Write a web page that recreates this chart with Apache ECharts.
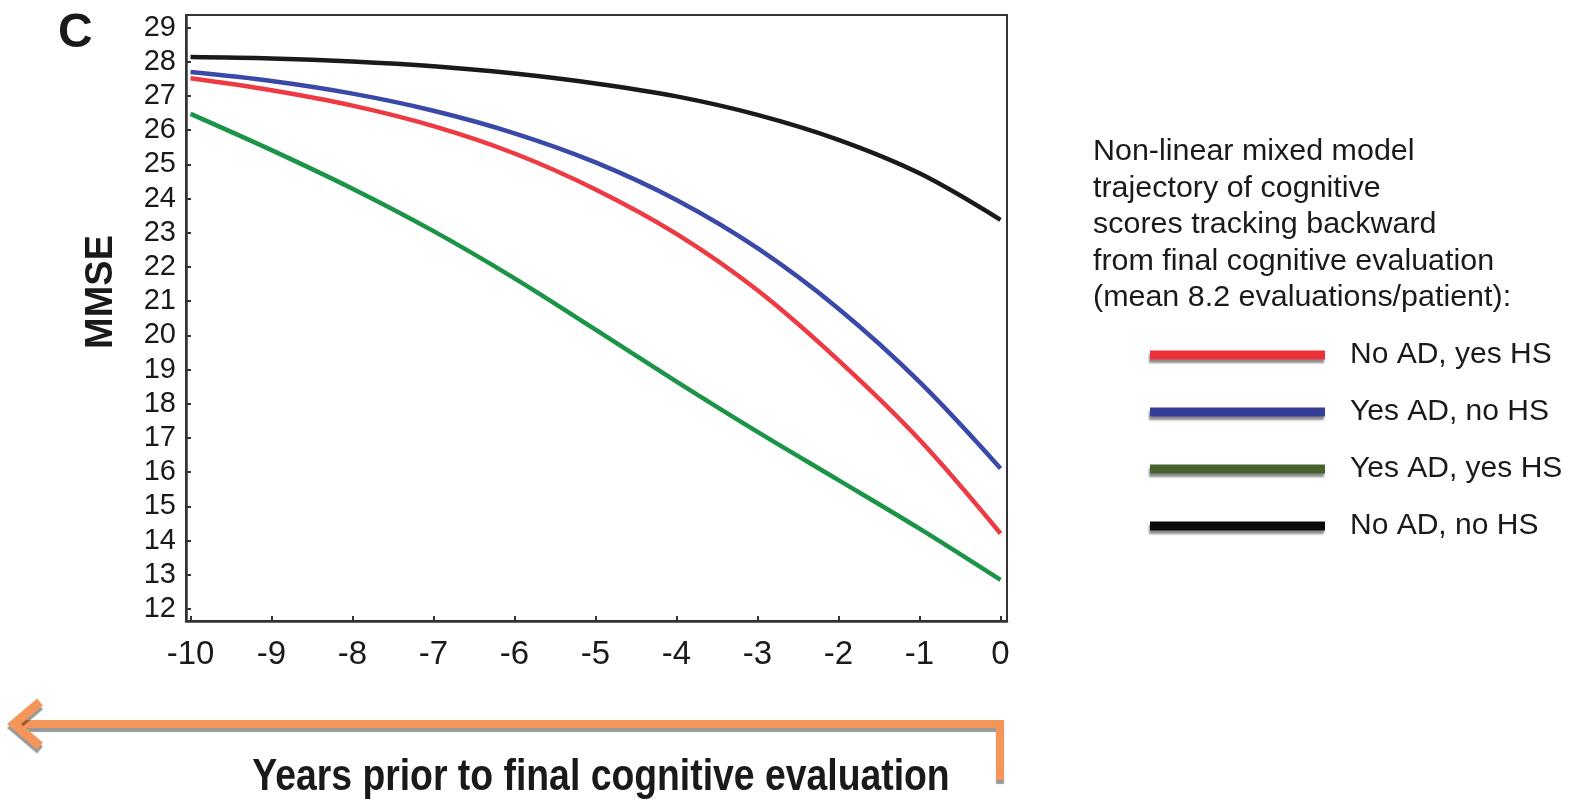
<!DOCTYPE html>
<html>
<head>
<meta charset="utf-8">
<script src="https://cdn.jsdelivr.net/npm/echarts@6/dist/echarts.min.js"></script>
<style>
  html, body { margin: 0; padding: 0; background: #fff; }
  #chart { width: 1573px; height: 799px; }
</style>
</head>
<body>
<div id="chart"></div>
<script>
// 数据：横轴年份与四条轨迹（MMSE）
const years = [-10, -9, -8, -7, -6, -5, -4, -3, -2, -1, 0];
const yTicks = [12, 13, 14, 15, 16, 17, 18, 19, 20, 21, 22, 23, 24, 25, 26, 27, 28, 29];
const seriesNames = ["No AD, yes HS", "Yes AD, no HS", "Yes AD, yes HS", "No AD, no HS"];
const noAdYesHs = [27.52, 27.17, 26.72, 26.12, 25.32, 24.27, 22.97, 21.32, 19.27, 16.95, 14.21];
const yesAdNoHs = [27.7, 27.44, 27.07, 26.57, 25.91, 25.06, 23.96, 22.55, 20.78, 18.64, 16.11];
const yesAdYesHs = [26.48, 25.42, 24.29, 23.05, 21.67, 20.17, 18.65, 17.18, 15.77, 14.35, 12.85];
const noAdNoHs = [28.14, 28.1, 28.01, 27.87, 27.66, 27.37, 26.99, 26.45, 25.72, 24.74, 23.38];

const lineColors = ["#ee3a43", "#3a48a8", "#1c9447", "#1a1a1a"];
const legendColors = ["#ec3138", "#363d96", "#46622f", "#0a0a0a"];

const sans = '"Liberation Sans", Arial, sans-serif';

function pairs(vals) {
  return years.map((x, i) => [x, vals[i]]);
}

let myChart = echarts.init(document.getElementById("chart"));

const allData = [noAdYesHs, yesAdNoHs, yesAdYesHs, noAdNoHs];

let option = {
  animation: false,
  grid: {
    left: 186,
    right: 566,
    top: 15,
    bottom: 178,
    show: true,
    borderColor: "#333",
    borderWidth: 2,
  },
  xAxis: {
    type: "value",
    min: -10.056,
    max: 0.08,
    axisLine: { onZero: false, lineStyle: { color: "#333", width: 2.5 } },
    axisTick: { inside: true, length: 5, customValues: years, lineStyle: { color: "#333", width: 2 } },
    axisLabel: {
      customValues: years,
      margin: 17,
      color: "#1a1a1a",
      fontFamily: sans,
      fontSize: 33,
    },
    splitLine: { show: false },
  },
  yAxis: {
    type: "value",
    min: 11.65,
    max: 29.37,
    axisLine: { onZero: false, lineStyle: { color: "#333", width: 2.5 } },
    axisTick: { inside: true, length: 5, customValues: yTicks, lineStyle: { color: "#333", width: 2 } },
    axisLabel: {
      customValues: yTicks,
      margin: 10,
      color: "#1a1a1a",
      fontFamily: sans,
      fontSize: 29,
    },
    splitLine: { show: false },
  },
  legend: {
    orient: "vertical",
    left: 1145,
    top: 335,
    icon: "rect",
    itemWidth: 175,
    itemHeight: 9,
    itemGap: 27,
    selectedMode: false,
    textStyle: {
      fontFamily: sans,
      fontSize: 30,
      color: "#1a1a1a",
      lineHeight: 30,
      padding: [0, 0, 0, 20],
    },
    data: seriesNames.map((name, i) => ({
      name: name,
      itemStyle: {
        color: legendColors[i],
        borderWidth: 0,
        shadowColor: "rgba(0,0,0,0.45)",
        shadowOffsetY: 3,
        shadowOffsetX: -1,
        shadowBlur: 2,
      },
    })),
  },
  series: seriesNames.map((name, i) => ({
    name: name,
    type: "line",
    data: pairs(allData[i]),
    smooth: 0.35,
    symbol: "none",
    color: lineColors[i],
    lineStyle: { width: 4.5, color: lineColors[i] },
  })),
  graphic: [
    // 左上角面板字母
    {
      type: "text",
      left: 58,
      top: 10,
      style: { text: "C", font: "bold 48px " + sans, fill: "#1a1a1a" },
    },
    // 纵轴标题
    {
      type: "text",
      x: 102,
      y: 292,
      rotation: Math.PI / 2,
      style: {
        text: "MMSE",
        font: "bold 38px " + sans,
        fill: "#1a1a1a",
        align: "center",
        verticalAlign: "middle",
      },
    },
    // 图例说明
    {
      type: "text",
      x: 1093,
      y: 134,
      scaleX: 1.05,
      style: {
        text: "Non-linear mixed model\ntrajectory of cognitive\nscores tracking backward\nfrom final cognitive evaluation\n(mean 8.2 evaluations/patient):",
        font: "29px " + sans,
        lineHeight: 36.5,
        fill: "#1a1a1a",
      },
    },
    // 橙色箭头
    {
      type: "polyline",
      shape: { points: [[1000, 780], [1000, 724], [16, 724]] },
      style: {
        stroke: "#f4955a",
        lineWidth: 8,
        fill: null,
        shadowColor: "rgba(0,0,0,0.4)",
        shadowOffsetY: 4,
        shadowBlur: 1,
      },
    },
    {
      type: "polyline",
      shape: { points: [[40, 702], [14, 724], [40, 746]] },
      style: {
        stroke: "#f4955a",
        lineWidth: 9,
        fill: null,
        lineJoin: "miter",
        shadowColor: "rgba(0,0,0,0.4)",
        shadowOffsetY: 4,
        shadowBlur: 1,
      },
    },
    {
      type: "text",
      x: 601,
      y: 778,
      scaleX: 0.83,
      style: {
        text: "Years prior to final cognitive evaluation",
        font: "bold 45px " + sans,
        fill: "#1a1a1a",
        align: "center",
        verticalAlign: "middle",
      },
    },
  ],
};

myChart.setOption(option);
window.addEventListener("resize", function () {
  myChart.resize();
});
</script>
</body>
</html>
